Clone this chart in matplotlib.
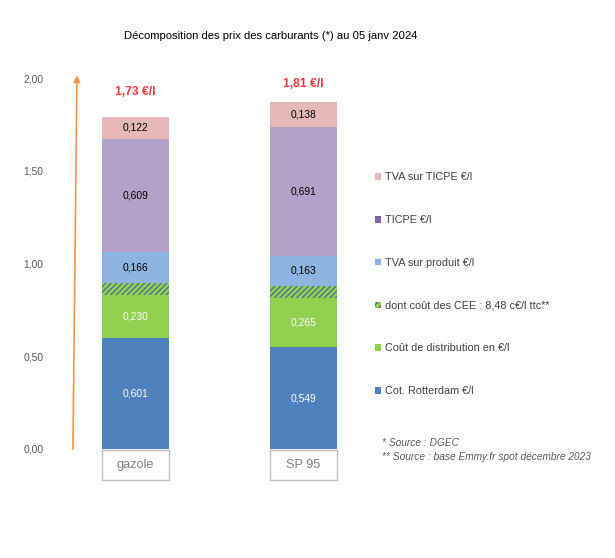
import numpy as np
import matplotlib
matplotlib.use('Agg')
import matplotlib.pyplot as plt
from matplotlib.patches import Patch, Rectangle

plt.rcParams['font.family'] = ['Liberation Sans', 'DejaVu Sans']
plt.rcParams['hatch.linewidth'] = 0.8

categories = ['gazole', 'SP 95']
totals = ['1,73 €/l', '1,81 €/l']

rotterdam = [0.601, 0.549]
distribution = [0.230, 0.265]
cee = [0.064, 0.066]
tva_produit = [0.166, 0.163]
ticpe = [0.609, 0.691]
tva_ticpe = [0.122, 0.138]

series = [
    ('Cot. Rotterdam €/l', rotterdam, '#4F81BD', None, 'white'),
    ('Coût de distribution en €/l', distribution, '#92D050', None, 'white'),
    ('dont coût des CEE : 8,48 c€/l ttc**', cee, '#92D050', '//////', None),
    ('TVA sur produit €/l', tva_produit, '#8DB4E2', None, 'black'),
    ('TICPE €/l', ticpe, '#B3A2C7', None, 'black'),
    ('TVA sur TICPE €/l', tva_ticpe, '#E6B9B8', None, 'black'),
]
legend_colors = ['#4F81BD', '#92D050', '#92D050', '#8DB4E2', '#8064A2', '#E6B9B8']

fig = plt.figure(figsize=(6.15, 5.58), dpi=100)
ax = fig.add_axes([60/615, 109/558, 310/615, 371/558])

x = np.arange(len(categories))
w = 0.4
bottom = np.zeros(len(categories))
for name, vals, col, hatch, tcol in series:
    vals = np.array(vals)
    if hatch:
        ax.bar(x, vals, w, bottom=bottom, color=col, hatch=hatch,
               edgecolor='#3F5FA8', linewidth=0)
    else:
        ax.bar(x, vals, w, bottom=bottom, color=col, linewidth=0)
    if tcol:
        for xi, b, v in zip(x, bottom, vals):
            ax.text(xi, b + v / 2, f'{v:.3f}'.replace('.', ','), ha='center',
                    va='center', fontsize=7.4, color=tcol)
    bottom = bottom + vals

# total price labels (placed by hand in the original, so offsets differ)
label_gap = [0.135, 0.097]
for xi, top, gap, lab in zip(x, bottom, label_gap, totals):
    ax.text(xi, top + gap, lab, ha='center', va='center', fontsize=8.7,
            fontweight='bold', color='#FF3B3B')

# category boxes under the bars
for xi, lab in zip(x, categories):
    ax.add_patch(Rectangle((xi - w / 2, -0.168), w, 0.163, facecolor='white',
                           edgecolor='#BFBFBF', linewidth=1, clip_on=False))
    ax.text(xi, -0.088, lab, ha='center', va='center', fontsize=9.2,
            color='#7F7F7F')

ax.annotate('', xy=(-0.348, 2.015), xytext=(-0.372, 0.0),
            annotation_clip=False,
            arrowprops=dict(arrowstyle='-|>', color='#F79646', lw=1.2,
                            mutation_scale=10, shrinkA=0, shrinkB=0))

ax.set_xlim(-0.449, 1.396)
ax.set_ylim(0, 2.0)
ax.set_xticks([])
yt = np.arange(0, 2.01, 0.5)
ax.set_yticks(yt)
ax.set_yticklabels([f'{v:.2f}'.replace('.', ',') for v in yt], fontsize=7.4,
                   color='#595959')
ax.tick_params(axis='y', length=0, pad=12)
for s in ax.spines.values():
    s.set_visible(False)

handles = []
for (name, vals, col, hatch, tcol), lc in zip(series, legend_colors):
    if hatch:
        handles.append(Patch(facecolor=lc, hatch='/////', edgecolor='#3F5FA8',
                             linewidth=0, label=name))
    else:
        handles.append(Patch(facecolor=lc, linewidth=0, label=name))
handles = handles[::-1]
fig.legend(handles=handles, loc='upper left', bbox_to_anchor=(375/615, 1 - 172.5/558),
           frameon=False, fontsize=7.8, labelcolor='#404040', handlelength=0.55,
           handleheight=0.55, handletextpad=0.4, labelspacing=3.02,
           borderaxespad=0, borderpad=0)

fig.text(271/615, 1 - 36/558,
         'Décomposition des prix des carburants (*) au 05 janv 2024',
         ha='center', va='center', fontsize=8.1, color='black')
fig.text(382/615, 1 - 443/558, '* Source : DGEC', ha='left', va='center',
         fontsize=7.3, style='italic', color='#595959')
fig.text(382/615, 1 - 457/558, '** Source : base Emmy.fr spot décembre 2023',
         ha='left', va='center', fontsize=7.3, style='italic', color='#595959')

fig.savefig('out.png', dpi=100)
